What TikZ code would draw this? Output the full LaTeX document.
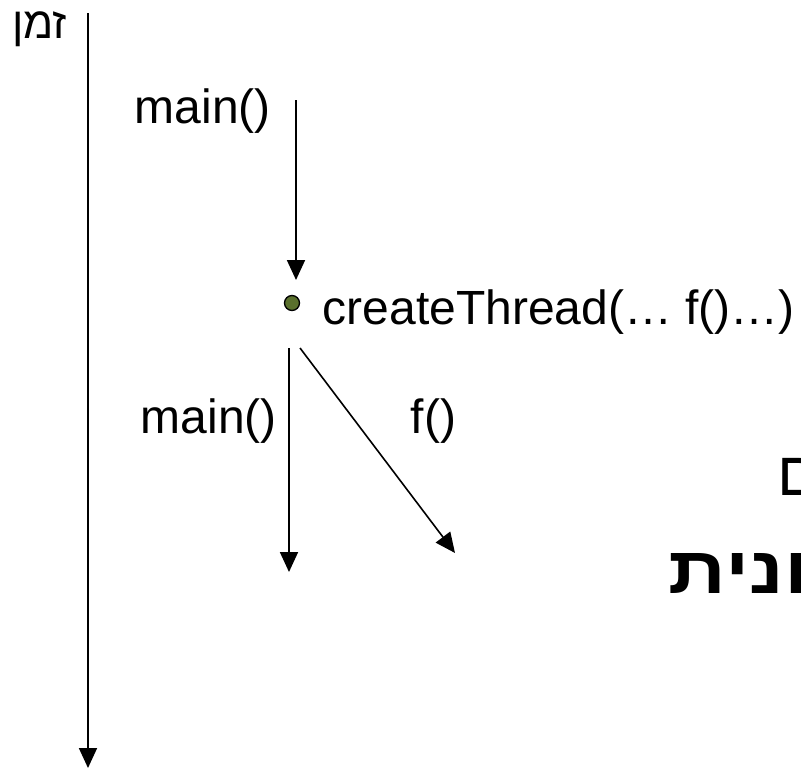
\documentclass[tikz,border=0pt]{standalone}
\usepackage{fontspec}
\setmainfont{Liberation Sans}
\newfontfamily\hebfont[Script=Hebrew]{Liberation Sans}
\TeXXeTstate=1
\usetikzlibrary{arrows.meta}
\definecolor{dotgreen}{RGB}{90,112,45}
\begin{document}
\begin{tikzpicture}[x=1pt,y=-1pt,line width=1.8pt,
  arr/.style={-{Triangle[length=20pt,width=18pt]}},
  lbl/.style={inner sep=0,anchor=base west,font=\fontsize{48}{56}\selectfont},
  heb/.style={inner sep=0,anchor=base west,font=\hebfont\fontsize{62}{68}\selectfont}]
\useasboundingbox (0,0) rectangle (801,769);
\fill[white] (0,0) rectangle (801,769);
% time axis
\node[inner sep=0,anchor=base east,font=\hebfont\fontsize{44}{50}\selectfont] (zman) at (68,38) {\beginR זמן\endR};
\coordinate (t0) at (88,13);
\coordinate (t1) at (88,768);
\draw[arr] (t0) -- (t1);
% main before thread creation
\node[lbl] (m1) at (134,123) {main()};
\coordinate (a0) at (296,100);
\coordinate (a1) at (296,280);
\draw[arr] (a0) -- (a1);
% creation point
\node[circle,draw,line width=1.3pt,fill=dotgreen,minimum size=15pt,inner sep=0] (dot) at (292,303) {};
\node[lbl] (ct) at (322,324) {createThread(… f()…)};
% two threads
\coordinate (b0) at (289,348);
\coordinate (b1) at (289,572);
\draw[arr] (b0) -- (b1);
\coordinate (c0) at (300,348);
\coordinate (c1) at (455,553);
\draw[arr,line width=1.6pt] (c0) -- (c1);
\node[lbl] (m2) at (140,433) {main()};
\node[lbl] (f) at (410,433) {f()};
% partial hebrew text at right edge
\node[heb] (r1) at (777,495) {\beginR ם\endR};
\node[heb,font=\hebfont\bfseries\fontsize{66}{72}\selectfont] (r2) at (668,593) {\scalebox{1.22}[1]{\beginR ונית\endR}};
\end{tikzpicture}
\end{document}
